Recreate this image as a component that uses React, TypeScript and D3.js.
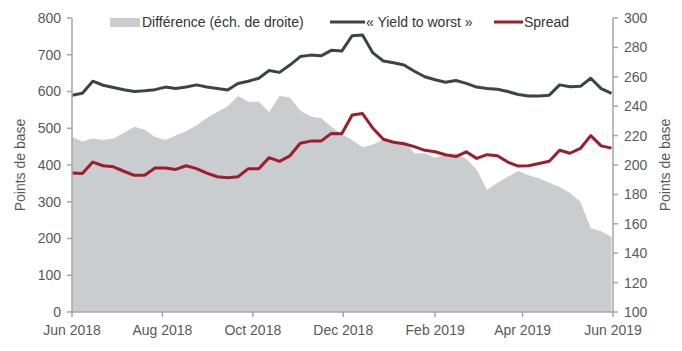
import React from 'react';
import * as d3 from 'd3';

const dates = [
  '2018-06-01', '2018-06-08', '2018-06-15', '2018-06-22', '2018-06-29', '2018-07-06', '2018-07-13',
  '2018-07-20', '2018-07-27', '2018-08-03', '2018-08-10', '2018-08-17', '2018-08-24', '2018-08-31',
  '2018-09-07', '2018-09-14', '2018-09-21', '2018-09-28', '2018-10-05', '2018-10-12', '2018-10-19',
  '2018-10-26', '2018-11-02', '2018-11-09', '2018-11-16', '2018-11-23', '2018-11-30', '2018-12-07',
  '2018-12-14', '2018-12-21', '2018-12-28', '2019-01-04', '2019-01-11', '2019-01-18', '2019-01-25',
  '2019-02-01', '2019-02-08', '2019-02-15', '2019-02-22', '2019-03-01', '2019-03-08', '2019-03-15',
  '2019-03-22', '2019-03-29', '2019-04-05', '2019-04-12', '2019-04-19', '2019-04-26', '2019-05-03',
  '2019-05-10', '2019-05-17', '2019-05-24', '2019-05-31',
];

// « Yield to worst » (left axis, bp)
const yieldToWorst = [
  590, 595, 628, 617, 611, 605, 600, 602, 605, 612, 608, 612, 618, 612,
  608, 604, 622, 628, 636, 657, 652, 672, 695, 699, 697, 712, 710, 752,
  754, 705, 683, 678, 672, 655, 640, 632, 625, 630, 622, 612, 608, 606,
  600, 592, 588, 588, 590, 618, 613, 614, 636, 608, 595,
];

// Spread (left axis, bp)
const spread = [
  378, 377, 408, 398, 395, 383, 372, 372, 392, 392, 388, 398, 390, 378,
  368, 365, 368, 390, 390, 420, 410, 425, 459, 465, 465, 486, 485, 536,
  540, 500, 470, 462, 458, 450, 440, 436, 428, 423, 436, 418, 428, 425,
  408, 397, 398, 404, 410, 440, 432, 445, 480, 452, 446,
];

// Différence (right axis, bp)
const difference = [
  219, 216, 218, 217, 218, 222, 226, 224, 219, 217, 220, 223, 227, 232,
  236, 240, 247, 243, 243, 236, 247, 246, 237, 233, 232, 226, 221, 217,
  212, 214, 217, 215, 216, 208, 208, 205, 207, 208, 204, 197, 183, 188,
  192, 196, 193, 191, 188, 185, 181, 175, 157, 155, 151,
];

const leftTicks = [0, 100, 200, 300, 400, 500, 600, 700, 800];
const rightTicks = [100, 120, 140, 160, 180, 200, 220, 240, 260, 280, 300];
const xTickDates = ['2018-06-01', '2018-08-01', '2018-10-01', '2018-12-01', '2019-02-01', '2019-04-01', '2019-06-01'];
const xTickLabels = ['Jun 2018', 'Aug 2018', 'Oct 2018', 'Dec 2018', 'Feb 2019', 'Apr 2019', 'Jun 2019'];

const W = 682;
const H = 351;
const left = 72;
const right = 613;
const top = 18;
const bottom = 312;

const axisColor = '#a6a6a6';
const textColor = '#595959';
const font = '"Liberation Sans", Arial, sans-serif';

export default function App() {
  const parse = d3.utcParse('%Y-%m-%d');
  const rows = dates.map((d, i) => ({
    date: parse(d) as Date,
    ytw: yieldToWorst[i],
    spread: spread[i],
    diff: difference[i],
  }));

  const x = d3.scaleUtc().domain([parse('2018-06-01') as Date, parse('2019-06-01') as Date]).range([left, right]);
  const yL = d3.scaleLinear().domain([0, 800]).range([bottom, top]);
  const yR = d3.scaleLinear().domain([100, 300]).range([bottom, top]);

  const area = d3
    .area<any>()
    .x((d) => x(d.date))
    .y0(yR(100))
    .y1((d) => yR(d.diff));
  const lineYtw = d3
    .line<any>()
    .x((d) => x(d.date))
    .y((d) => yL(d.ytw));
  const lineSpread = d3
    .line<any>()
    .x((d) => x(d.date))
    .y((d) => yL(d.spread));

  return (
    <div style={{ position: 'absolute', left: 0, top: 0 }}>
      <svg width={W} height={H} style={{ display: 'block', background: '#fff' }} fontFamily={font}>
        <path d={area(rows) || ''} fill="#c9cdd0" />
        <path d={lineYtw(rows) || ''} fill="none" stroke="#3d4448" strokeWidth={3} strokeLinejoin="round" />
        <path d={lineSpread(rows) || ''} fill="none" stroke="#a11c2b" strokeWidth={3} strokeLinejoin="round" />

        {/* left axis */}
        <line x1={left} x2={left} y1={top} y2={bottom} stroke={axisColor} strokeWidth={1.5} />
        {leftTicks.map((t) => (
          <g key={'l' + t}>
            <line x1={left - 5} x2={left} y1={yL(t)} y2={yL(t)} stroke={axisColor} strokeWidth={1.5} />
            <text x={left - 11} y={yL(t)} dy="0.35em" textAnchor="end" fontSize={14} fill={textColor}>
              {t}
            </text>
          </g>
        ))}

        {/* right axis */}
        <line x1={right} x2={right} y1={top} y2={bottom} stroke={axisColor} strokeWidth={1.5} />
        {rightTicks.map((t) => (
          <g key={'r' + t}>
            <line x1={right} x2={right + 5} y1={yR(t)} y2={yR(t)} stroke={axisColor} strokeWidth={1.5} />
            <text x={right + 11} y={yR(t)} dy="0.35em" textAnchor="start" fontSize={14} fill={textColor}>
              {t}
            </text>
          </g>
        ))}

        {/* bottom axis */}
        <line x1={left} x2={right} y1={bottom} y2={bottom} stroke={axisColor} strokeWidth={1.5} />
        {xTickDates.map((d, i) => {
          const px = x(parse(d) as Date);
          return (
            <g key={d}>
              <line x1={px} x2={px} y1={bottom} y2={bottom + 5} stroke={axisColor} strokeWidth={1.5} />
              <text x={px} y={bottom + 23} textAnchor="middle" fontSize={14} fill={textColor}>
                {xTickLabels[i]}
              </text>
            </g>
          );
        })}

        {/* axis titles */}
        <text transform={`translate(25,${(top + bottom) / 2}) rotate(-90)`} textAnchor="middle" fontSize={14} fill={textColor}>
          Points de base
        </text>
        <text transform={`translate(670,${(top + bottom) / 2}) rotate(-90)`} textAnchor="middle" fontSize={14} fill={textColor}>
          Points de base
        </text>

        {/* legend */}
        <rect x={110} y={18} width={30} height={9} fill="#c9cdd0" />
        <text x={142} y={22} dy="0.35em" fontSize={14} fill="#333">
          Différence (éch. de droite)
        </text>
        <line x1={330} x2={365} y1={22} y2={22} stroke="#3d4448" strokeWidth={3} />
        <text x={366} y={22} dy="0.35em" fontSize={14} fill="#333">
          « Yield to worst »
        </text>
        <line x1={494} x2={523} y1={22} y2={22} stroke="#a11c2b" strokeWidth={3} />
        <text x={524} y={22} dy="0.35em" fontSize={14} fill="#333">
          Spread
        </text>
      </svg>
    </div>
  );
}
